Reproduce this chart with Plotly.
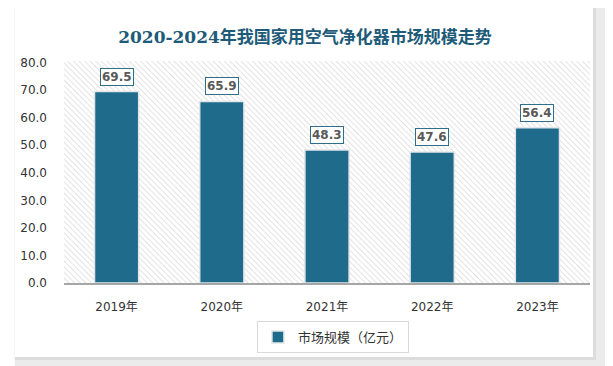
import base64
import plotly.graph_objects as go

years = ["2019年", "2020年", "2021年", "2022年", "2023年"]
market_size = [69.5, 65.9, 48.3, 47.6, 56.4]
series_name = "市场规模（亿元）"
title_text = "2020-2024年我国家用空气净化器市场规模走势"

# page has 8px body margin; figure sized to fit the window
W, H = 605, 358
L, R, T, B = 50, 23, 53, 83
pw, ph = W - L - R, H - T - B

svg = (f'<svg xmlns="http://www.w3.org/2000/svg" width="{W}" height="{H}" '
       f'viewBox="0 0 {W} {H}" preserveAspectRatio="none">'
       '<defs><pattern id="p" width="4" height="4" patternUnits="userSpaceOnUse" '
       'patternTransform="rotate(-45)">'
       '<line x1="0" y1="0" x2="0" y2="4" stroke="#d4d4d4" stroke-width="1.3"/></pattern></defs>'
       f'<rect width="{W}" height="{H}" fill="#ebebeb"/>'
       '<rect x="0" y="0" width="588" height="352" fill="#dcdcdc"/>'
       '<rect x="0" y="0" width="585" height="349" fill="white"/>'
       f'<rect x="{L}" y="{T}" width="{pw}" height="{ph}" fill="url(#p)"/></svg>')
src = "data:image/svg+xml;base64," + base64.b64encode(svg.encode()).decode()

fig = go.Figure()
fig.add_trace(go.Bar(
    x=years, y=market_size, name=series_name, width=0.42,
    marker=dict(color="#1f6b8c", line=dict(color="#e2e6e8", width=1.5)),
))

for x, v in zip(years, market_size):
    fig.add_annotation(x=x, y=v, text=f"<b>{v:.1f}</b>", showarrow=False, yshift=15,
                       font=dict(size=12, color="#595959", family="DejaVu Sans"),
                       bgcolor="white", bordercolor="#2f6e87", borderwidth=1, borderpad=1)

fig.add_layout_image(source=src, xref="paper", yref="paper", x=-L / pw, y=1 + T / ph,
                     sizex=W / pw, sizey=H / ph, sizing="stretch",
                     xanchor="left", yanchor="top", layer="below")

fig.update_layout(
    width=W, height=H,
    margin=dict(l=L, r=R, t=T, b=B),
    paper_bgcolor="white", plot_bgcolor="rgba(0,0,0,0)",
    title=dict(text=f"<b>{title_text}</b>", x=297 / W, xanchor="center", y=1 - 29 / H, yanchor="middle",
               font=dict(size=17, color="#1d5b78", family="DejaVu Serif, Noto Sans CJK SC")),
    showlegend=True,
    legend=dict(orientation="h", x=(322 - L) / pw, xanchor="center", y=(H - B - 329) / ph, yanchor="middle",
                bordercolor="#d9d9d9", borderwidth=1, bgcolor="white",
                font=dict(size=13, color="#333333", family="Noto Sans CJK SC")),
    font=dict(family="DejaVu Sans, Noto Sans CJK SC", color="#333333"),
)
fig.update_xaxes(showline=True, linecolor="#a6a6a6", linewidth=1.5, ticks="",
                 ticklabelstandoff=12, tickfont=dict(size=12, color="#333333"))
fig.update_yaxes(range=[0, 80.6], dtick=10, tickformat=".1f", showgrid=False, zeroline=False,
                 ticklabelstandoff=16, tickfont=dict(size=12, color="#333333"))

fig.write_html("out.html")
